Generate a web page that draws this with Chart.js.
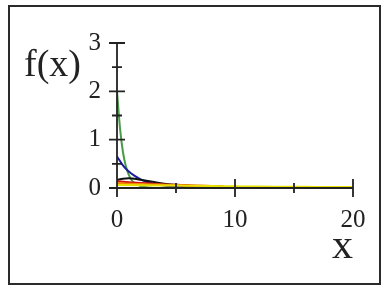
<!DOCTYPE html>
<html>
<head>
<meta charset="utf-8">
<script src="https://cdn.jsdelivr.net/npm/chart.js@4/dist/chart.umd.min.js"></script>
<style>
html,body{margin:0;padding:0;background:#fff;}
#wrap{position:relative;width:387px;height:288px;}
#frame{position:absolute;left:8px;top:5px;width:369px;height:276px;border:2.5px solid #2a2a2a;box-sizing:content-box;}
canvas{position:absolute;left:0;top:0;}
.lbl{position:absolute;font-family:"Liberation Serif","DejaVu Serif",serif;color:#222;line-height:1;}
</style>
</head>
<body>
<div id="wrap">
<div id="frame"></div>
<canvas id="c" width="387" height="288"></canvas>
<div class="lbl" id="fx" style="left:24px;top:44px;font-size:38px;">f(x)</div>
<div class="lbl" id="xl" style="left:332px;top:223px;font-size:42px;">x</div>
</div>
<script>
const yTickLabels = ['0','1','2','3'];
const xTickLabels = ['0','10','20'];

const greenX = [0, 0.25, 0.5, 0.75, 1, 1.25, 1.5, 2, 2.5, 3];
const greenY = [2.0, 1.25, 0.75, 0.45, 0.27, 0.16, 0.10, 0.04, 0.015, 0.005];

const blueX = [0, 0.5, 1, 1.5, 2, 2.5, 3, 4, 5, 6, 7, 8];
const blueY = [0.65, 0.47, 0.34, 0.25, 0.18, 0.13, 0.095, 0.05, 0.03, 0.015, 0.008, 0.004];

const blackX = [0, 0.5, 1, 1.5, 2, 3, 4, 5, 6, 7, 8, 9];
const blackY = [0.17, 0.19, 0.2, 0.19, 0.17, 0.13, 0.09, 0.065, 0.045, 0.03, 0.02, 0.015];

const redX = [0, 1, 2, 3, 4, 5, 6, 7, 8, 9];
const redY = [0.14, 0.12, 0.105, 0.09, 0.075, 0.065, 0.055, 0.045, 0.04, 0.035];

const orangeX = [0, 1, 2, 3, 4, 5, 6, 7, 8, 9];
const orangeY = [0.1, 0.09, 0.082, 0.074, 0.066, 0.06, 0.054, 0.048, 0.043, 0.038];

const yellowX = [0, 2, 4, 6, 8, 10, 12, 14, 16, 18, 20];
const yellowY = [0.06, 0.055, 0.05, 0.045, 0.04, 0.035, 0.03, 0.027, 0.024, 0.021, 0.019];

function pts(xs, ys){ return xs.map((x,i)=>({x:x, y:ys[i]})); }
function ds(xs, ys, color){
  return {data: pts(xs, ys), borderColor: color, borderWidth: 2, pointRadius: 0,
          cubicInterpolationMode: 'monotone', fill: false};
}

const tickPlugin = {
  id: 'crossTicks',
  afterDraw(chart){
    const ctx = chart.ctx, xs = chart.scales.x, ys = chart.scales.y;
    const x0 = xs.getPixelForValue(0), y0 = ys.getPixelForValue(0);
    ctx.save();
    ctx.strokeStyle = '#222';
    ctx.lineWidth = 1.8;
    ctx.beginPath();
    ctx.moveTo(x0, ys.getPixelForValue(3)); ctx.lineTo(x0, y0);
    ctx.moveTo(x0, y0); ctx.lineTo(xs.getPixelForValue(20), y0);
    [0,0.5,1,1.5,2,2.5,3].forEach(v=>{
      const p = ys.getPixelForValue(v);
      const h = (v % 1 === 0) ? 8 : 5;
      ctx.moveTo(x0-h, p); ctx.lineTo(x0+h, p);
    });
    [0,5,10,15,20].forEach(v=>{
      const p = xs.getPixelForValue(v);
      const h = (v % 10 === 0) ? 9 : 5;
      ctx.moveTo(p, y0-h); ctx.lineTo(p, y0+h);
    });
    ctx.stroke();
    ctx.restore();
  }
};

new Chart(document.getElementById('c'), {
  type: 'line',
  data: {
    datasets: [
      ds(yellowX, yellowY, '#e8e200'),
      ds(orangeX, orangeY, '#f08a00'),
      ds(redX, redY, '#d01010'),
      ds(blackX, blackY, '#111111'),
      ds(blueX, blueY, '#1c1c9c'),
      ds(greenX, greenY, '#4a9a4a')
    ]
  },
  options: {
    responsive: false,
    animation: false,
    layout: {padding: {left: 57, top: 43, right: 34, bottom: 60}},
    plugins: {legend: {display: false}, tooltip: {enabled: false}},
    scales: {
      x: {
        type: 'linear', min: 0, max: 20,
        border: {display: false},
        grid: {display: false, drawTicks: false},
        afterFit(s){ s.height = 40; },
        ticks: {
          stepSize: 10, padding: 17, maxRotation: 0,
          color: '#222',
          font: {family: 'Liberation Serif', size: 25},
          callback: (v) => xTickLabels.includes(String(v)) ? String(v) : ''
        }
      },
      y: {
        type: 'linear', min: 0, max: 3,
        border: {display: false},
        grid: {display: false, drawTicks: false},
        afterFit(s){ s.width = 60; },
        ticks: {
          stepSize: 1, padding: 16,
          color: '#222',
          font: {family: 'Liberation Serif', size: 25},
          callback: (v) => yTickLabels.includes(String(v)) ? String(v) : ''
        }
      }
    }
  },
  plugins: [tickPlugin]
});
</script>
</body>
</html>
